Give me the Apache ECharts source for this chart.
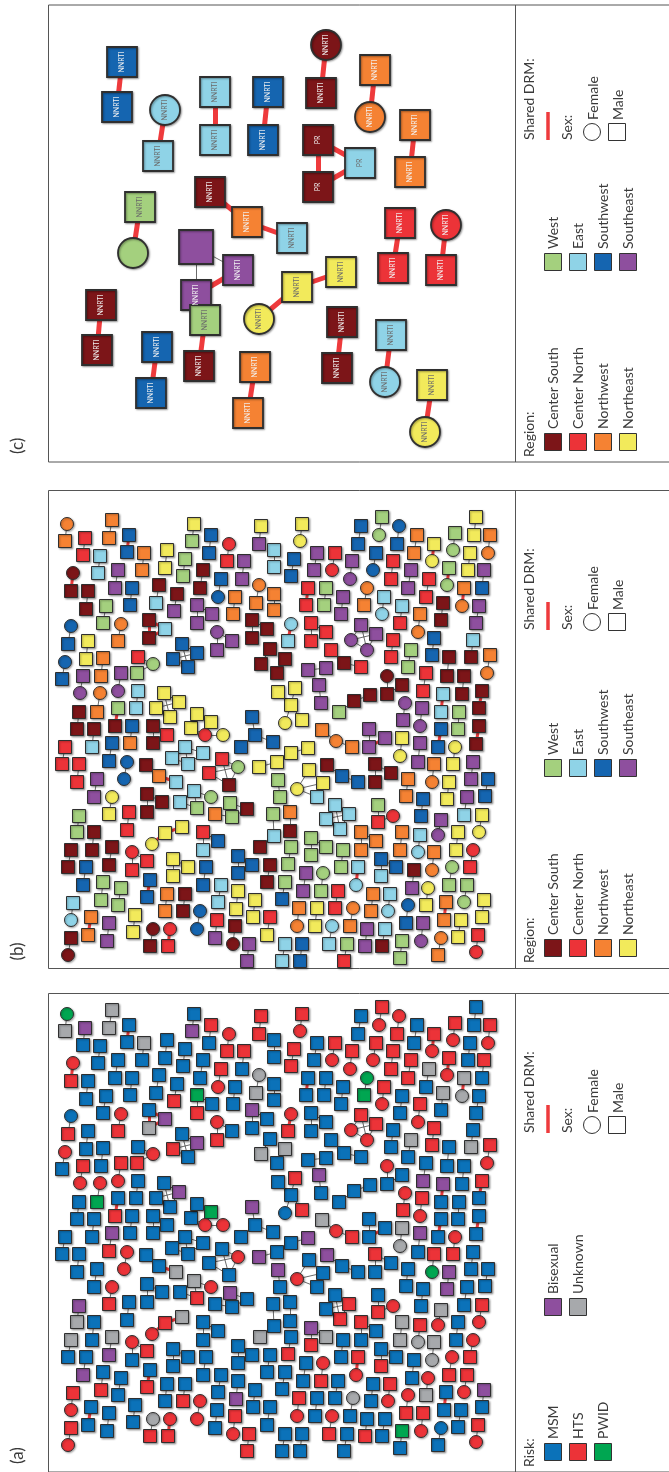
<!DOCTYPE html>
<html>
<head>
<meta charset="utf-8">
<script src="https://cdn.jsdelivr.net/npm/echarts@6/dist/echarts.min.js"></script>
<style>
html,body{margin:0;padding:0;background:#fff}
#chart{width:669px;height:1472px}
</style>
</head>
<body>
<div id="chart"></div>
<script>
// ---- categories ----
const riskCodes  = ['M', 'H', 'W', 'X', 'U'];
const riskLabels = ['MSM', 'HTS', 'PWID', 'Bisexual', 'Unknown'];
const riskColors = ['#0b72b9', '#ec3338', '#00a651', '#8e4f9e', '#a7a9ac'];

const regionCodes  = ['s', 'n', 'o', 'e', 'w', 'l', 'b', 'p'];
const regionLabels = ['Center South', 'Center North', 'Northwest', 'Northeast', 'West', 'East', 'Southwest', 'Southeast'];
const regionColors = ['#7c1518', '#ec3338', '#f58233', '#f2ea5b', '#a4d07e', '#8fd3e7', '#1565b0', '#8e4f9e'];

// ---- transmission clusters (panels a and b share one layout) ----
// node token "x,y,Rr": R = risk code (lower case = female, drawn as circle), r = region code
// "-" plain link, "=" shared drug resistance mutation, "~" no link; after "|" extra links by index
const clusters = [
  "17,22,wo - 15,39,Uo", "35,36,Xn - 33,53,Mn", "62,18,Uo - 59,36,Uo", "79,33,Mb = 77,50,Mb",
  "94,51,Uo - 92,68,Mo", "50,54,Ml - 48,71,Ml", "144,22,Me - 142,39,Xw", "161,33,Hb - 159,51,Mb",
  "179,42,hn - 177,59,Hn", "211,24,He - 209,42,Hp", "117,48,Me - 115,66,Me", "135,57,Mw - 133,74,Mw",
  "194,59,Hp - 192,77,Mp", "68,68,Mp - 65,86,Mp", "23,71,hs = 21,89,Hs", "153,68,Ms - 150,86,Ms",
  "171,77,Hb - 168,95,hb", "38,89,Ms - 36,107,Ms", "82,86,Mb - 80,103,Mb", "109,83,Ms - 106,101,Ml",
  "127,92,Ms - 124,109,Hp", "209,83,uo - 206,101,Uo", "185,95,Mo - 183,112,Mo", "56,104,Mw - 53,121,Mw",
  "147,121,Hp - 147,103,Wp - 162,112,Mp", "99,118,Ms = 115,127,Xl = 99,136,Us | 0=2",
  "71,122,ho - 68,139,Ho", "21,124,mb - 18,142,Hb", "202,136,Ms - 202,118,Xs - 217,127,Ms",
  "38,139,Me - 36,157,Me", "167,148,Hp - 167,130,hp - 182,139,Mp",
  "132,142,Mb - 147,151,Xb - 138,165,Mb - 123,157,Hb | 0-2 1-3",
  "220,147,Ms - 211,162,Us", "235,157,Us - 227,171,Ms", "15,160,hb - 12,177,Mb",
  "224,48,Ml - 224,65,Ml", "224,92,Mo - 224,108,Mo",
  "252,22,He - 250,39,he", "311,24,Mb - 308,42,Mb", "332,15,Hw - 329,33,hw", "349,24,hb - 347,42,Hb",
  "367,33,Mo - 364,51,Mo", "426,15,Me - 424,33,Me", "405,31,Hw - 403,48,hw", "440,33,Ho - 438,51,ho",
  "384,42,He = 382,59,he", "420,51,Me - 418,68,Me", "244,57,Hb - 241,74,Hb", "267,51,Mp - 264,68,Mp",
  "285,51,Hn - 282,68,hn", "302,59,Hp - 300,77,hp", "326,51,Hb - 323,68,hb", "343,59,Hn - 341,77,Hn",
  "361,68,Hp - 358,86,Hp", "399,66,Hw = 397,83,hw", "434,68,Hp - 432,86,Mb", "379,77,Un - 376,95,Mn",
  "414,86,Uo = 412,104,uo", "258,86,Mn = 256,103,Mn", "276,86,Mw - 274,103,Mw", "317,86,wo - 314,103,Wo",
  "293,95,Mp - 291,112,Mp", "334,95,Hl - 332,112,hl", "393,101,Us - 391,118,Ms", "429,104,Mp - 426,121,Mp",
  "352,104,Ml - 350,121,Mn", "370,112,Ho - 368,130,ho", "241,122,hl = 238,139,Hl",
  "261,139,Mn - 261,121,Mn - 276,130,Mn", "311,123,Hp - 301,138,hp - 317,148,hp - 326,132,Hp | 0-2 1-3",
  "343,138,Mn - 341,155,Mn", "361,148,Uw - 358,165,Mw", "384,136,Hb - 382,153,Hb",
  "423,138,Ml - 421,155,Us", "440,153,Ho - 437,171,ho", "281,148,Mn - 294,161,Ms - 311,165,Mn",
  "33,174,Hp - 30,191,hp", "53,156,Mo - 51,174,Mo", "50,191,ho - 47,210,Wo", "71,171,Hp - 68,189,hp",
  "88,155,Mn - 103,162,hw - 87,171,Hw", "88,189,Ml - 86,206,Ml",
  "114,191,Me - 129,200,Xe - 120,215,Me - 106,206,Me | 0-2 1-3", "29,210,Ms - 27,227,Ms",
  "68,206,Mw = 65,224,Hs", "141,226,Me - 147,212,Me - 161,220,We - 155,233,hn - 173,233,he | 0-3",
  "223,240,Mb - 205,233,Mb - 191,245,Mb ~ 202,215,Xb | 1-3", "82,224,Mb - 80,241,Mo",
  "103,241,Ms - 103,224,Ms - 117,233,Mn", "44,227,Ms - 42,245,Ml", "15,245,Mn - 12,262,Mn",
  "62,241,Xb - 59,259,Hb", "135,245,Ml - 153,251,Ml - 138,262,Ml - 122,256,Ml | 0-2",
  "209,265,Xe - 227,260,Me", "77,260,hb - 74,277,hb", "29,262,Mn - 27,280,Mn",
  "96,263,Ms - 109,274,Mo = 126,280,Ul", "172,257,Mn - 188,265,hw - 179,283,Ms - 159,271,Mn | 0-2 1-3",
  "47,277,Mp - 44,295,Mp", "161,295,hw - 144,289,Ul - 147,306,Hw - 130,300,Ml", "62,295,he - 59,312,He",
  "97,310,Ms - 97,292,Ms - 112,300,Ms", "180,301,Xw - 197,307,Ms - 182,315,Mw - 165,312,Mo | 0-2",
  "29,314,Xw - 27,330,Uw", "79,310,Mn - 77,328,Mn", "223,312,Mw - 224,334,Ml - 210,345,Us",
  "44,330,Ms - 42,348,Ms", "21,348,Us - 18,365,Ms", "62,345,Us - 59,363,Xs",
  "102,342,he = 115,331,He = 132,325,Ue", "82,368,Mn - 82,350,hn - 97,359,Hn", "36,365,Mb - 33,383,Xb",
  "53,380,Mw - 51,398,Hw", "71,386,Mw - 68,403,Mw", "100,378,Mb = 97,395,Hb",
  "123,374,Me - 123,357,Me - 138,365,Me", "153,348,Ml - 153,330,Mn - 168,339,Mb", "156,365,Mb - 153,383,Mb",
  "188,371,Mb - 188,354,Mb - 202,363,Mb", "220,363,Ms - 217,380,Ms", "188,389,Me - 186,407,Xe",
  "171,383,Ml - 168,400,Ml", "23,401,Hl - 21,418,hl", "117,392,Mo - 115,409,Mo", "135,392,Ms - 133,409,Hs",
  "150,409,hb - 147,427,hb", "205,398,Me - 203,415,Me", "220,415,Mn - 217,433,Me", "41,415,Mo = 38,433,Mo",
  "59,421,Mp - 57,439,Mp", "85,413,Me - 83,430,Me", "167,418,Mn - 165,436,Mp", "185,424,Hs - 183,442,hs",
  "21,436,Hs - 18,453,hs", "103,427,us - 100,444,Hs", "120,427,hn = 118,444,Hn", "199,442,Hp - 197,459,Hp",
  "240,310,Mo - 240,329,Ms", "241,345,Mw - 238,362,Hw", "261,353,Hw - 261,336,Xw - 276,345,Uw",
  "285,303,Ml - 299,312,Hl - 290,327,Hl - 276,317,Ml | 0-2 1-3", "311,348,Mo - 311,330,Ho - 326,339,Mo",
  "328,303,Mw - 328,320,Hn - 343,314,hn", "293,348,Mw - 291,365,Mw", "331,374,Hl - 331,357,Mb - 346,365,Mb",
  "308,365,Hl = 306,383,hl", "352,330,Uo - 350,348,Uo", "370,333,Hl - 368,350,ul", "391,318,Up - 388,333,hp",
  "384,350,Uo - 382,368,uo", "408,330,Me - 406,348,Me", "432,313,He - 429,330,he", "423,348,hn - 420,365,Hn",
  "364,368,Ms - 362,386,Mp", "402,365,hw - 399,383,Hw", "378,386,he - 376,403,Ue", "256,371,Mp - 253,389,Mp",
  "273,371,hw - 271,389,Hw", "235,380,Mw - 232,397,Mb", "288,389,Mn - 285,406,Mn", "323,392,Mo - 321,409,Mo",
  "340,392,Hl - 338,409,hl", "417,383,Hw - 414,400,hw", "396,400,Mo = 394,418,Mo", "434,398,Xe - 432,415,Me",
  "411,418,Me - 408,435,Me", "249,406,Ho - 247,424,ho", "267,406,Me - 265,424,Me", "303,406,uo - 300,424,Mo",
  "358,403,hb - 356,421,Hb", "373,421,Hp - 371,439,hp", "282,424,hl - 279,442,Hl", "317,427,Mp - 315,444,Hp",
  "335,427,Ml - 332,444,Ms", "391,436,mo - 388,453,Mo", "428,433,Hn - 426,450,hn", "235,442,Ml - 232,459,Ml",
  "252,442,Mb - 250,459,Mb", "297,442,Mw - 294,459,Mn", "352,439,Ww - 350,456,Mw",
  "258,168,Mp - 276,166,Mp", "269,183,Xp - 271,201,Mp",
  "245,186,He - 241,203,Me - 235,221,me ~ 252,218,He ~ 228,190,Me | 1-3 4-1",
  "289,210,Mw - 304,199,Ms - 320,193,Ms", "337,174,hs - 337,192,Ms - 352,183,Ms", "355,201,hp - 353,218,Hp",
  "376,171,Mn - 373,189,Xn", "399,155,Ms - 397,174,Ms", "414,174,Ms - 412,192,Ms", "393,192,Xl = 391,210,Ml",
  "409,210,Mw - 408,227,Mw", "405,245,he - 403,262,He", "432,189,Hs = 429,206,Ms", "429,224,Ms = 426,242,Ms",
  "423,260,Mp - 421,277,Mp", "417,295,Mp - 414,313,Ml", "372,206,Hp - 370,224,hp",
  "319,227,Mp - 319,245,Mp = 335,236,Mp", "352,236,Ue - 350,254,ue", "370,241,Xp - 368,260,Mp",
  "391,227,Mb = 388,245,Mb", "384,262,Ho - 382,280,wo", "399,280,Xe - 397,297,Xe", "438,277,Mb - 435,294,Mb",
  "373,297,Mb - 371,314,Mb", "358,277,Mo - 356,294,Mo", "325,280,Ms - 325,262,Hs - 341,271,Ms",
  "277,263,Xs - 292,274,Mb - 308,280,Mb", "259,268,Me - 273,281,Me - 267,295,Ml - 247,287,he | 0-3 1-3",
  "241,251,Me - 258,246,Xe", "228,278,Xw - 230,295,Mw", "272,228,Uo - 286,239,ho - 302,245,Ho"
];

// ---- panel c: clusters sharing drug resistance mutations ----
// node token "x,y,region,sex,label"
const drmClusters = [
  "72,62,b,M,NNRTI = 67,107,b,M,NNRTI", "115,110,l,F,NNRTI = 108,156,l,M,NNRTI",
  "165,92,l,M,NNRTI = 165,140,l,M,NNRTI", "218,92,b,M,NNRTI = 213,140,b,M,NNRTI",
  "276,45,s,F,NNRTI = 271,93,s,M,NNRTI", "325,70,o,M,NNRTI = 320,117,o,F,NNRTI",
  "365,125,o,M,NNRTI = 360,172,o,M,NNRTI", "268,140,s,M,PR = 310,163,l,M,PR = 268,187,s,M,PR | 0=2",
  "90,207,w,M,NNRTI = 83,253,w,F,", "160,192,s,M,NNRTI = 197,222,o,M,NNRTI = 242,238,l,M,NNRTI",
  "146,247,p,M, - 146,295,p,M,NNRTI = 188,270,p,M,NNRTI | 0-2",
  "291,272,e,M,NNRTI = 247,287,e,M,NNRTI = 209,319,e,F,NNRTI",
  "350,223,n,M,NNRTI = 343,268,n,M,NNRTI", "396,225,n,F,NNRTI = 391,270,n,M,NNRTI",
  "51,305,s,M,NNRTI = 47,350,s,M,NNRTI", "107,347,b,M,NNRTI = 101,393,b,M,NNRTI",
  "155,320,w,M,NNRTI = 149,366,s,M,NNRTI", "205,367,o,M,NNRTI = 198,413,o,M,NNRTI",
  "292,322,s,M,NNRTI = 287,368,s,M,NNRTI", "341,335,l,M,NNRTI = 335,382,l,F,NNRTI",
  "382,385,e,M,NNRTI = 375,432,e,F,NNRTI"
];

// ---- parsing ----
function parseClusters(list, parseNode) {
  const nodes = [], links = [];
  list.forEach(str => {
    const [chain, extra] = str.split('|');
    const parts = chain.trim().split(/\s+([-=~])\s+/);
    const base = nodes.length;
    for (let i = 0; i < parts.length; i += 2) {
      nodes.push(parseNode(parts[i].trim()));
      if (i > 0 && parts[i - 1] !== '~') links.push([nodes.length - 2, nodes.length - 1, parts[i - 1] === '=']);
    }
    if (extra) extra.trim().split(/\s+/).forEach(t => {
      const m = t.match(/^(\d+)([-=])(\d+)$/);
      links.push([base + (+m[1]), base + (+m[3]), m[2] === '=']);
    });
  });
  return { nodes, links };
}
const net = parseClusters(clusters, tok => {
  const [x, y, c] = tok.split(',');
  const r = c[0];
  return { x: +x, y: +y, female: r !== r.toUpperCase(), risk: riskCodes.indexOf(r.toUpperCase()), region: regionCodes.indexOf(c[1]) };
});
const drm = parseClusters(drmClusters, tok => {
  const [x, y, reg, sex, label] = tok.split(',');
  return { x: +x, y: +y, female: sex === 'F', region: regionCodes.indexOf(reg), label: label || '' };
});

// ---- styling ----
const FONT = 'Lato, "DejaVu Sans", sans-serif';
const TEXT = '#3a3a3a';
const RED_LINK = '#ee3a3c';

function graphSeries(g, idx, colorOf, size, redWidth, borderWidth, withLabels) {
  return {
    type: 'graph', coordinateSystem: 'cartesian2d', xAxisIndex: idx, yAxisIndex: idx,
    silent: true, animation: false,
    data: g.nodes.map(n => ({
      value: [n.x, n.y],
      symbol: n.female ? 'circle' : 'rect',
      symbolSize: typeof size === 'function' ? size(n) : size,
      itemStyle: {
        color: colorOf(n), borderColor: '#2f2f2f', borderWidth: borderWidth,
        shadowColor: 'rgba(0,0,0,0.35)', shadowBlur: 2, shadowOffsetX: 1, shadowOffsetY: 1
      },
      label: withLabels ? {
        show: !!n.label, formatter: n.label, rotate: 90, fontSize: 7, fontFamily: FONT,
        color: (n.region === 3 || n.region === 4 || n.region === 5) ? '#6a6a6a' : '#f2f2f2'
      } : { show: false }
    })),
    links: g.links.map(l => ({
      source: l[0], target: l[1],
      lineStyle: l[2] ? { color: RED_LINK, width: redWidth, opacity: 1 } : { color: '#444', width: 0.8, opacity: 1 }
    })),
    label: { show: false },
    emphasis: { disabled: true }
  };
}

// ---- panel geometry ----
const panels = [
  { top: 5, bottom: 462, label: '(c)' },
  { top: 490.5, bottom: 968.5, label: '(b)' },
  { top: 993.5, bottom: 1472, label: '(a)' }
];
const grids = [
  { left: 50, top: 0, width: 465, height: 470 },     // c
  { left: 50, top: 502, width: 465, height: 478 },   // b
  { left: 50, top: 992, width: 465, height: 478 }    // a
];

const graphic = [];
function vtext(x, y, text, size) {
  graphic.push({
    type: 'text', x: x, y: y, rotation: Math.PI / 2, silent: true,
    style: { text: text, font: (size || 14) + 'px ' + FONT, fill: TEXT, align: 'left', verticalAlign: 'middle' }
  });
}
function swatch(cx, cy, color, shape) {
  const s = 17;
  if (shape === 'circle') {
    graphic.push({ type: 'circle', silent: true, shape: { cx: cx, cy: cy, r: s / 2 }, style: { fill: color, stroke: '#333', lineWidth: 1 } });
  } else {
    graphic.push({ type: 'rect', silent: true, shape: { x: cx - s / 2, y: cy - s / 2, width: s, height: s }, style: { fill: color, stroke: '#333', lineWidth: 1 } });
  }
}

panels.forEach(p => {
  graphic.push({ type: 'rect', silent: true, shape: { x: 48.5, y: p.top, width: 640, height: p.bottom - p.top },
    style: { fill: 'none', stroke: '#555', lineWidth: 1 } });
  graphic.push({ type: 'line', silent: true, shape: { x1: 515.5, y1: p.top, x2: 515.5, y2: p.bottom },
    style: { stroke: '#555', lineWidth: 1 } });
  vtext(18, p.bottom - 8, p.label, 17);
});

// sex / shared DRM block, placed relative to a panel
function sexBlock(base) {
  vtext(529, base + 140, 'Shared DRM:', 14);
  graphic.push({ type: 'line', silent: true, shape: { x1: 548, y1: base + 112, x2: 548, y2: base + 140 },
    style: { stroke: RED_LINK, lineWidth: 3.5 } });
  vtext(567, base + 140, 'Sex:', 14);
  swatch(592, base + 132, '#fff', 'circle');
  vtext(593, base + 120, 'Female', 14);
  swatch(617, base + 132, '#fff', 'rect');
  vtext(618, base + 120, 'Male', 14);
}
function regionBlock(bottom) {
  vtext(529, bottom - 5, 'Region:', 14);
  for (let i = 0; i < 4; i++) {
    const x = 553 + i * 25;
    swatch(x, bottom - 20, regionColors[i], 'rect');
    vtext(x, bottom - 33, regionLabels[i], 14);
    swatch(x, bottom - 200, regionColors[i + 4], 'rect');
    vtext(x, bottom - 213, regionLabels[i + 4], 14);
  }
}
function riskBlock(bottom) {
  vtext(529, bottom - 5, 'Risk:', 14);
  for (let i = 0; i < 3; i++) {
    const x = 553 + i * 25;
    swatch(x, bottom - 20, riskColors[i], 'rect');
    vtext(x, bottom - 33, riskLabels[i], 14);
  }
  for (let i = 3; i < 5; i++) {
    const x = 553 + (i - 3) * 25;
    swatch(x, bottom - 165, riskColors[i], 'rect');
    vtext(x, bottom - 178, riskLabels[i], 14);
  }
}
regionBlock(462); sexBlock(0);
regionBlock(968); sexBlock(490);
riskBlock(1472); sexBlock(993);

const xAxes = grids.map((g, i) => ({ gridIndex: i, type: 'value', min: 0, max: g.width, show: false }));
const yAxes = grids.map((g, i) => ({ gridIndex: i, type: 'value', min: 0, max: g.height, inverse: true, show: false }));

const chart = echarts.init(document.getElementById('chart'), null, { renderer: 'canvas' });
chart.setOption({
  backgroundColor: '#fff',
  animation: false,
  grid: grids,
  xAxis: xAxes,
  yAxis: yAxes,
  series: [
    graphSeries(drm, 0, n => regionColors[n.region], n => (n.label === '' && !n.female) ? 34 : 30, 5, 1.8, true),
    graphSeries(net, 1, n => regionColors[n.region], 13, 3, 1, false),
    graphSeries(net, 2, n => riskColors[n.risk], 13, 3, 1, false)
  ],
  graphic: graphic
});
</script>
</body>
</html>
